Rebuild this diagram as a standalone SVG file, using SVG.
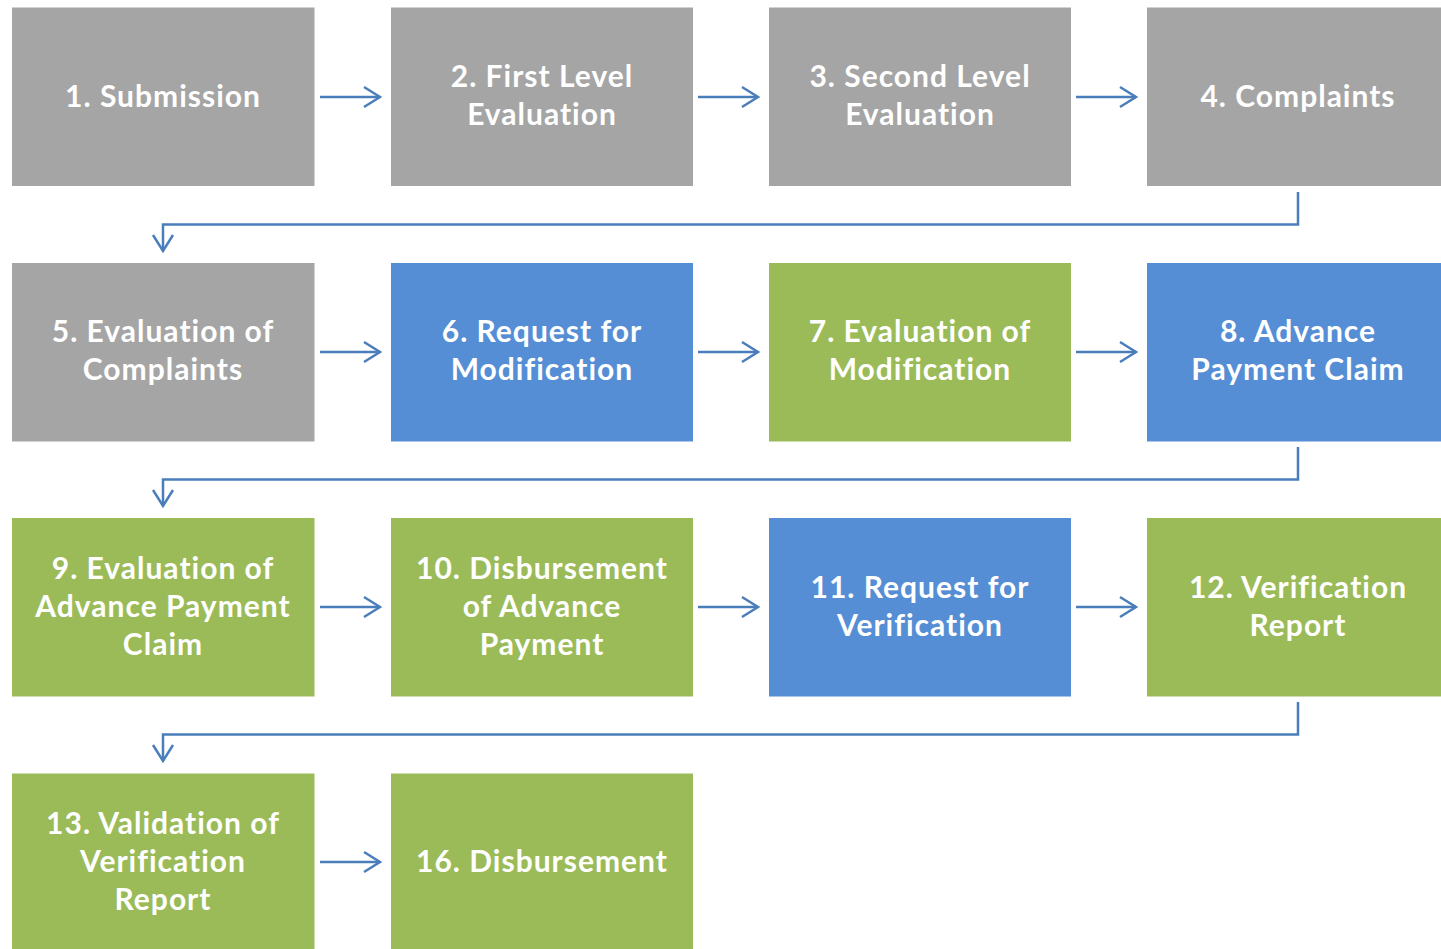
<svg xmlns="http://www.w3.org/2000/svg" width="1441" height="949" viewBox="0 0 1441 949">
<style>
.g{fill:#a5a5a5}.b{fill:#558ed5}.v{fill:#9bbb59}
text{font-family:Lato,"Open Sans","Liberation Sans",sans-serif;font-weight:bold;font-size:30px;letter-spacing:1px;fill:#fff;text-anchor:middle}
.c{fill:none;stroke:#4a7ebb;stroke-width:2.5}
</style>
<defs>
<marker id="ah" markerUnits="userSpaceOnUse" markerWidth="24" markerHeight="24" viewBox="-18 -12 20 24" refX="0" refY="0" orient="auto">
<path d="M-16,-10 L0,0 L-16,10" fill="none" stroke="#4a7ebb" stroke-width="2.5"/>
</marker>
</defs>
<rect width="1441" height="949" fill="#fff"/>
<g id="n1"><rect class="g" x="12" y="7.5" width="302.5" height="178.5"/><text x="163" y="107">1. Submission</text></g>
<g id="n2"><rect class="g" x="391" y="7.5" width="302" height="178.5"/><text x="542" y="87">2. First Level</text><text x="542" y="125">Evaluation</text></g>
<g id="n3"><rect class="g" x="769" y="7.5" width="302" height="178.5"/><text x="920" y="87">3. Second Level</text><text x="920" y="125">Evaluation</text></g>
<g id="n4"><rect class="g" x="1147" y="7.5" width="294" height="178.5"/><text x="1298" y="107">4. Complaints</text></g>
<g id="n5"><rect class="g" x="12" y="263" width="302.5" height="178.5"/><text x="163" y="342">5. Evaluation of</text><text x="163" y="380">Complaints</text></g>
<g id="n6"><rect class="b" x="391" y="263" width="302" height="178.5"/><text x="542" y="342">6. Request for</text><text x="542" y="380">Modification</text></g>
<g id="n7"><rect class="v" x="769" y="263" width="302" height="178.5"/><text x="920" y="342">7. Evaluation of</text><text x="920" y="380">Modification</text></g>
<g id="n8"><rect class="b" x="1147" y="263" width="294" height="178.5"/><text x="1298" y="342">8. Advance</text><text x="1298" y="380">Payment Claim</text></g>
<g id="n9"><rect class="v" x="12" y="518" width="302.5" height="178.5"/><text x="163" y="579">9. Evaluation of</text><text x="163" y="617">Advance Payment</text><text x="163" y="655">Claim</text></g>
<g id="n10"><rect class="v" x="391" y="518" width="302" height="178.5"/><text x="542" y="579">10. Disbursement</text><text x="542" y="617">of Advance</text><text x="542" y="655">Payment</text></g>
<g id="n11"><rect class="b" x="769" y="518" width="302" height="178.5"/><text x="920" y="598">11. Request for</text><text x="920" y="636">Verification</text></g>
<g id="n12"><rect class="v" x="1147" y="518" width="294" height="178.5"/><text x="1298" y="598">12. Verification</text><text x="1298" y="636">Report</text></g>
<g id="n13"><rect class="v" x="12" y="773.5" width="302.5" height="180"/><text x="163" y="834">13. Validation of</text><text x="163" y="872">Verification</text><text x="163" y="910">Report</text></g>
<g id="n16"><rect class="v" x="391" y="773.5" width="302" height="180"/><text x="542" y="872">16. Disbursement</text></g>
<g id="connectors">
<path class="c" d="M320,97 H380" marker-end="url(#ah)"/>
<path class="c" d="M698,97 H758" marker-end="url(#ah)"/>
<path class="c" d="M1076,97 H1136" marker-end="url(#ah)"/>
<path class="c" d="M1298,192 V224.5 H163 V251" marker-end="url(#ah)"/>
<path class="c" d="M320,352 H380" marker-end="url(#ah)"/>
<path class="c" d="M698,352 H758" marker-end="url(#ah)"/>
<path class="c" d="M1076,352 H1136" marker-end="url(#ah)"/>
<path class="c" d="M1298,447 V479.5 H163 V506" marker-end="url(#ah)"/>
<path class="c" d="M320,607 H380" marker-end="url(#ah)"/>
<path class="c" d="M698,607 H758" marker-end="url(#ah)"/>
<path class="c" d="M1076,607 H1136" marker-end="url(#ah)"/>
<path class="c" d="M1298,702 V734.5 H163 V761" marker-end="url(#ah)"/>
<path class="c" d="M320,862 H380" marker-end="url(#ah)"/>
</g>
</svg>
